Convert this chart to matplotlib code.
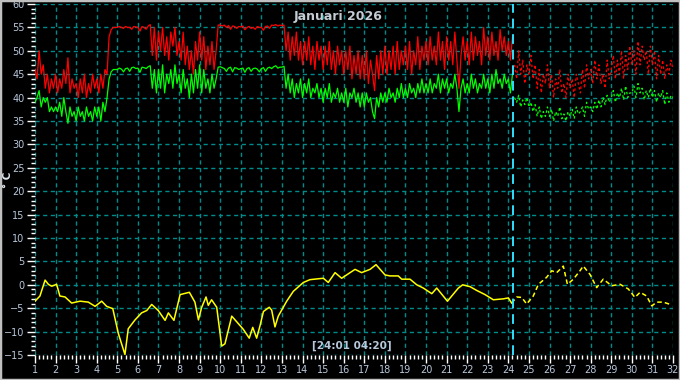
import numpy as np
import matplotlib
matplotlib.use('Agg')
import matplotlib.pyplot as plt
from matplotlib.patches import Rectangle
from matplotlib.ticker import MultipleLocator

# --- data (day of month, degrees C) ---
# measured part: day 1.0 .. 24.2, step 0.1
red_meas = [
    46, 44, 50, 45, 47, 42, 45, 41, 44, 42,
    45, 41, 44, 42, 46, 43, 48.5, 41, 44, 42,
    43, 40, 44, 41, 45, 40, 43, 41, 45, 42,
    44, 41, 45, 42, 46, 45, 53, 54.5, 55, 55,
    55, 55.2, 55, 54.8, 55.2, 55, 55, 54.6, 55.2, 55.1,
    55, 54.2, 55.2, 55, 54.6, 55.3, 55.6, 49, 55, 48,
    54, 50, 55, 49, 53, 48, 54, 51, 55, 49,
    52, 48, 54, 47, 51, 46, 50, 45, 52, 48,
    54, 48, 53, 46, 51, 47, 52, 46, 50, 55.5,
    55.5, 55.3, 55.5, 55, 55.4, 54.6, 55.3, 55.2, 54.8, 55.2,
    55.1, 55.3, 54.5, 55, 55.2, 54.8, 55, 54.6, 55.2, 55,
    55, 54.4, 55.2, 55.3, 54.8, 55.5, 55.4, 55.6, 55.3, 55.5,
    55.4, 55.5, 50, 54, 48, 53, 49, 54, 48, 52,
    47, 52, 48, 53, 47, 51, 46, 52, 48, 51,
    46, 51, 47, 52, 46, 50, 45, 51, 47, 50,
    45, 50, 46, 51, 44, 49, 45, 50, 44, 49,
    44, 50, 43, 48, 45, 41.5, 49, 44, 50, 45,
    51, 45, 50, 46, 51, 45, 52, 46, 50, 47,
    51, 46, 52, 45, 50, 47, 53, 46, 51, 48,
    52, 47, 53, 48, 51, 47, 54, 48, 52, 46,
    53, 48, 52, 47, 54, 48, 42, 49, 53, 48,
    52, 47, 54, 48, 53, 49, 52, 47, 55, 49,
    53, 48, 54, 49, 52, 48, 54.5, 50, 53, 49,
    52, 48, 53,
]
green_meas = [
    39, 40, 41.5, 38, 40, 39, 40, 37, 38, 37,
    38, 37, 39, 36, 40, 37, 34.5, 38, 36, 37,
    35, 38, 36, 37, 35, 38, 36, 37, 35, 38,
    36, 38, 35, 39, 37, 40, 44, 45.5, 46, 46,
    46, 46.3, 46.1, 45.5, 46.2, 46.3, 45.6, 46.4, 46.5, 46.2,
    46.3, 45.4, 46.5, 46.4, 46.2, 46.6, 46.8, 42, 46, 41,
    46, 42, 47, 41, 45, 43, 46, 42, 47, 43,
    45, 41, 46, 42, 44, 40, 45, 41, 46, 42,
    47, 41, 46, 42, 44, 41, 45, 42, 44, 46.5,
    46.6, 46.4, 46.2, 45.6, 46.3, 46.5, 45.5, 46.4, 46.3, 46,
    46.2, 46.3, 45.4, 46.2, 46.4, 45.6, 46.2, 46.3, 46.1, 45.5,
    46.2, 46.4, 45.6, 46.3, 46.5, 46.2, 46.6, 46.8, 46.3, 46.5,
    46.5, 46.7, 42, 45, 41, 44, 40, 43, 41, 44,
    40, 43, 41, 44, 40, 42, 41, 43, 40, 42,
    39, 42, 40, 43, 39, 41, 40, 42, 39, 41,
    39, 42, 38, 41, 40, 42, 39, 41, 38, 41,
    38, 41, 39, 40, 37, 35.5, 40, 38, 41, 39,
    41, 39, 42, 40, 41, 39, 42, 40, 43, 40,
    42, 40, 43, 41, 42, 40, 43, 41, 44, 41,
    43, 41, 44, 41, 43, 42, 45, 41, 44, 42,
    44, 41, 43, 42, 45, 42, 37, 42, 44, 41,
    43, 41, 45, 42, 44, 41, 43, 42, 45, 42,
    44, 41, 45, 42, 46, 43, 44, 42, 45, 43,
    44, 41, 45,
]
# forecast part: day 24.3 .. 32.0, step 0.1
red_fc = [
    47, 44, 50, 45, 48, 43, 47,
    45, 49, 44, 47, 42, 46, 41, 45, 43, 47,
    42, 45, 40, 44, 42, 46, 41, 43, 40, 45,
    42, 44, 40, 45, 43, 41, 46, 42, 47, 44,
    46, 43, 48, 44, 47, 43, 45, 42, 48, 44,
    46, 49, 44, 48, 45, 50, 44, 49, 46, 51,
    47, 50, 45, 52, 47, 51, 48, 50, 45, 51,
    47, 50, 44, 49, 45, 48, 44, 47, 45, 48,
    46,
]
green_fc = [
    40, 39, 40.5, 38, 39.5, 38.5, 40,
    38, 39, 37, 38.5, 36, 38, 35.5, 37, 36, 38,
    36, 37.5, 35, 37, 36, 38, 35.5, 36.5, 35, 37,
    36, 37.5, 35.5, 38, 36.5, 37, 38, 36, 39, 37.5,
    38, 37, 39, 37.5, 39.5, 38, 40, 38.5, 40.5, 39,
    40, 41.5, 39, 41, 40, 42, 39.5, 42.5, 40, 41,
    41, 42.5, 40, 43, 41, 42, 39.5, 41.5, 40, 42,
    40, 41.5, 39, 41, 40, 41.5, 38.5, 41, 39, 40.5,
    40,
]
yellow_meas_day = [1.0, 1.24, 1.49, 1.65, 1.81, 2.05, 2.21, 2.46, 2.78, 3.19, 3.59, 3.92,
                   4.24, 4.48, 4.78, 5.05, 5.37, 5.53, 5.86, 6.18, 6.43, 6.67, 6.99, 7.32,
                   7.48, 7.75, 8.05, 8.5, 8.77, 8.94, 9.1, 9.31, 9.42, 9.58, 9.83, 10.07,
                   10.23, 10.56, 10.8, 11.12, 11.41, 11.58, 11.77, 11.93, 12.1, 12.38, 12.5,
                   12.66, 12.82, 13.23, 13.55, 14.04, 14.36, 15.01, 15.25, 15.58, 15.9, 16.31,
                   16.55, 16.87, 17.28, 17.57, 18.01, 18.25, 18.65, 18.82, 19.22, 19.55, 19.87,
                   20.28, 20.52, 21.04, 21.57, 21.78, 22.14, 22.46, 22.87, 23.27, 23.76, 24.0,
                   24.16]
yellow_meas = [-3.5, -2.4, 1.0, 0.1, -0.3, 0.1, -2.4, -2.6, -3.9, -3.5, -3.7, -4.6,
               -3.5, -4.6, -5.1, -10.4, -14.9, -9.4, -7.5, -6.0, -5.5, -4.2, -5.5, -7.6,
               -6.0, -7.6, -2.1, -1.6, -3.7, -7.5, -4.8, -2.6, -4.4, -3.2, -4.8, -13.1,
               -12.6, -6.7, -7.9, -9.5, -11.4, -9.1, -11.4, -8.8, -5.7, -4.8, -5.4,
               -9.0, -6.7, -3.5, -1.4, 0.5, 1.1, 1.4, 0.5, 2.6, 1.4, 2.6,
               3.3, 2.6, 3.3, 4.3, 2.1, 1.9, 1.9, 1.2, 1.2, 0.0, -0.7,
               -1.9, -0.7, -3.5, -0.7, 0.0, -0.4, -1.2, -2.1, -3.2, -3.0, -2.8,
               -3.9]
yellow_fc_day = [24.16, 24.41, 24.65, 24.89, 25.21, 25.46, 25.86, 26.11, 26.35, 26.67, 26.87,
                 27.16, 27.48, 27.64, 27.97, 28.29, 28.61, 29.02, 29.43, 29.83, 30.15, 30.4,
                 30.72, 30.97, 31.21, 31.53, 31.94]
yellow_fc = [-3.9, -2.6, -2.7, -4.1, -2.4, 0.1, 1.6, 3.0, 2.6, 4.0, 0.1,
             1.2, 3.0, 4.0, 2.2, -0.6, 1.2, -0.2, 0.1, -0.9, -2.7, -1.6,
             -2.4, -4.5, -3.7, -3.7, -4.3]

now_day = 24.23
title = "Januari 2026"
now_label = "[24:01 04:20]"

day_meas = 1.0 + 0.1 * np.arange(len(red_meas))
day_fc = 24.3 + 0.1 * np.arange(len(red_fc))

fig = plt.figure(figsize=(6.8, 3.8), dpi=100, facecolor='black')
ax = fig.add_axes([35 / 680, 25 / 380, 638 / 680, 351 / 380])
ax.set_facecolor('black')

# grid
ax.set_xlim(1, 32)
ax.set_ylim(-15, 60)
ax.xaxis.set_major_locator(MultipleLocator(1))
ax.xaxis.set_minor_locator(MultipleLocator(0.2))
ax.yaxis.set_major_locator(MultipleLocator(5))
ax.yaxis.set_minor_locator(MultipleLocator(1))
ax.grid(True, which='major', color='#008b8b', linewidth=1, linestyle=(0, (3, 2.5)))
ax.set_axisbelow(True)
for s in ax.spines.values():
    s.set_visible(False)

ax.tick_params(which='major', colors='white', length=6, width=1, labelsize=7,
               labelcolor='#b8c8dc', pad=1.5)
ax.tick_params(which='minor', colors='white', length=3, width=1)
ax.set_xticks(range(1, 33))
ax.set_xticklabels([str(d) for d in range(1, 33)])

# lines
ax.plot(day_meas, red_meas, color='#ff0000', lw=0.9)
ax.plot(day_meas, green_meas, color='#00ff00', lw=0.9)
ax.plot(day_fc, red_fc, color='#ff0000', lw=0.9, linestyle=(0, (2, 2)))
ax.plot(day_fc, green_fc, color='#00ff00', lw=0.9, linestyle=(0, (2, 2)))
ax.plot(yellow_meas_day, yellow_meas, color='#ffff00', lw=1.1)
ax.plot(yellow_fc_day, yellow_fc, color='#ffff00', lw=1.1, linestyle=(0, (3, 2)))

ax.axvline(now_day, color='#30e0ff', lw=1.4, linestyle=(0, (5, 3)))

ax.text(0.475, 0.963, title, transform=ax.transAxes, ha='center', va='center',
        color='#c4ccd4', fontsize=9, fontweight='bold')
ax.text(0.497, 0.012, now_label, transform=ax.transAxes, ha='center', va='bottom',
        color='#b8c8dc', fontsize=7.5, fontweight='bold')
fig.text(8 / 680, 1 - 180 / 380, "° C", rotation=90, ha='center', va='center',
         color='#e0e8f0', fontsize=7.5, fontweight='bold')

fig.patches.append(Rectangle((0, 0), 1, 1, transform=fig.transFigure, fill=False,
                             edgecolor='#c0c0c0', linewidth=2.5))

fig.savefig('out.png', dpi=100, facecolor='black')
